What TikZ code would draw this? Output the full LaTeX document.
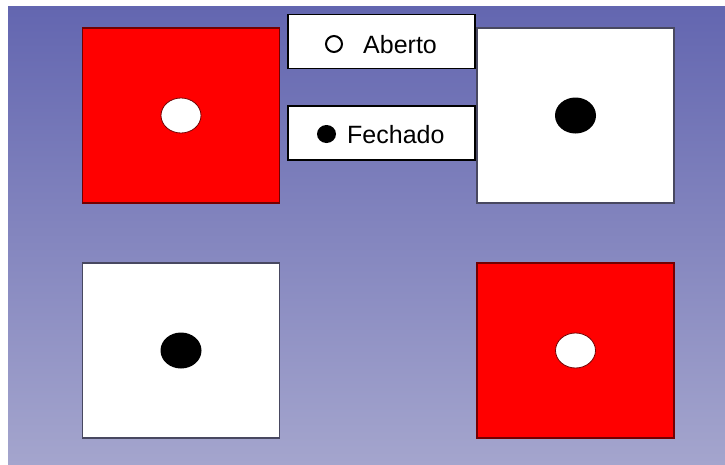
\documentclass[tikz,border=0pt]{standalone}
\usepackage{fontspec}
\setmainfont{Liberation Sans}
\usetikzlibrary{shapes.geometric}
\definecolor{bgtop}{RGB}{99,102,176}
\definecolor{bgbot}{RGB}{164,165,205}
\definecolor{valvered}{RGB}{255,0,0}
\definecolor{edgegray}{RGB}{72,72,96}
\tikzset{sq/.style={draw,line width=1.4pt,minimum width=197pt,minimum height=175pt,inner sep=0pt},
         redsq/.style={sq,fill=valvered,draw=red!45!black},
         whitesq/.style={sq,fill=white,draw=edgegray},
         opendot/.style={ellipse,draw=red!45!black,fill=white,line width=.8pt,
                         minimum width=40pt,minimum height=35pt,inner sep=0pt},
         shutdot/.style={ellipse,fill=black,minimum width=41pt,minimum height=36pt,inner sep=0pt},
         legend/.style={draw,fill=white,line width=1.4pt,minimum width=187pt,minimum height=54pt,inner sep=0pt},
         legtext/.style={inner sep=0pt,font=\fontsize{25}{30}\selectfont}}

\begin{document}
\begin{tikzpicture}[x=1pt,y=1pt]
  \useasboundingbox (0,0) rectangle (725,-464);
  \shade[top color=bgtop,bottom color=bgbot] (8,-6) rectangle (725,-464);

  % valve squares
  \node[redsq]   (tl) at (181,-115.5) {};
  \node[whitesq] (tr) at (575.5,-115.5) {};
  \node[whitesq] (bl) at (181,-350.5) {};
  \node[redsq]   (br) at (575.5,-350.5) {};
  \node[opendot] (tlc) at (tl) {};
  \node[shutdot] (trc) at (tr) {};
  \node[shutdot] (blc) at (bl) {};
  \node[opendot] (brc) at (br) {};

  % legend
  \node[legend] (aberto) at (381.5,-41.5) {};
  \node[circle,draw,line width=2pt,minimum size=16pt,inner sep=0pt] (abertomk) at (334,-44) {};
  \node[legtext,anchor=base west] (abertotx) at (363,-53) {Aberto};
  \node[legend] (fechado) at (381.5,-133) {};
  \node[ellipse,fill=black,minimum width=19pt,minimum height=18pt,inner sep=0pt] (fechadomk) at (326.5,-134) {};
  \node[legtext,anchor=base west] (fechadotx) at (347,-143) {Fechado};
\end{tikzpicture}
\end{document}
